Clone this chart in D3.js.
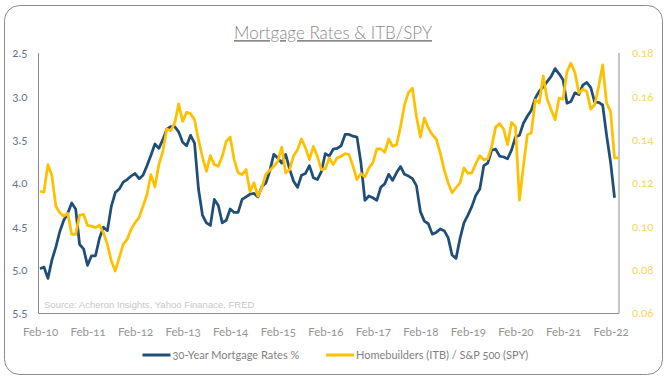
<!DOCTYPE html>
<html>
<head>
<meta charset="utf-8">
<script src="https://cdn.jsdelivr.net/npm/d3@7"></script>
<style>
  html, body { margin: 0; padding: 0; background: #ffffff; }
  svg { display: block; }
  .lbl { font-family: "Lato", "Open Sans", sans-serif; font-feature-settings: "onum" 1; font-variant-numeric: oldstyle-nums; }
</style>
</head>
<body>
<svg id="chart" width="668" height="380"></svg>
<script>
// ---------- data ----------
const title = "Mortgage Rates & ITB/SPY";
const sourceNote = "Source: Acheron Insights, Yahoo Finanace, FRED";
const seriesNames = ["30-Year Mortgage Rates %", "Homebuilders (ITB) / S&P 500 (SPY)"];
const xTickLabels = ["Feb-10","Feb-11","Feb-12","Feb-13","Feb-14","Feb-15","Feb-16","Feb-17","Feb-18","Feb-19","Feb-20","Feb-21","Feb-22"];
const leftTicks = [2.5, 3.0, 3.5, 4.0, 4.5, 5.0, 5.5];
const rightTicks = [0.06, 0.08, 0.10, 0.12, 0.14, 0.16, 0.18];

// monthly, starting Feb-10 (index 0)
const mortgageRates = [
  4.99, 4.97, 5.10, 4.89, 4.74, 4.56, 4.43, 4.35, 4.23, 4.30, 4.71,
  4.76, 4.95, 4.84, 4.84, 4.64, 4.51, 4.55, 4.27, 4.11, 4.07, 3.99, 3.96,
  3.92, 3.89, 3.95, 3.91, 3.80, 3.68, 3.55, 3.60, 3.50, 3.38, 3.35, 3.35,
  3.41, 3.53, 3.57, 3.45, 3.54, 4.07, 4.37, 4.46, 4.49, 4.19, 4.26, 4.46,
  4.43, 4.30, 4.34, 4.34, 4.19, 4.16, 4.13, 4.12, 4.16, 4.04, 4.00, 3.86,
  3.67, 3.71, 3.77, 3.67, 3.84, 3.98, 4.05, 3.91, 3.89, 3.80, 3.94, 3.96,
  3.87, 3.66, 3.69, 3.61, 3.60, 3.57, 3.44, 3.44, 3.46, 3.47, 3.77, 4.20,
  4.15, 4.17, 4.20, 4.05, 4.01, 3.90, 3.97, 3.88, 3.81, 3.90, 3.92, 3.95,
  4.03, 4.33, 4.44, 4.47, 4.59, 4.57, 4.53, 4.55, 4.63, 4.83, 4.87, 4.64,
  4.46, 4.37, 4.27, 4.14, 4.07, 3.80, 3.77, 3.62, 3.61, 3.69, 3.70, 3.72,
  3.62, 3.47, 3.45, 3.31, 3.23, 3.16, 3.02, 2.94, 2.89, 2.83, 2.77, 2.68,
  2.74, 2.81, 3.08, 3.06, 2.96, 2.98, 2.87, 2.84, 2.90, 3.07, 3.07, 3.10,
  3.45, 3.76, 4.17
];

const itbSpy = [
  0.1162, 0.1158, 0.1285, 0.1234, 0.1093, 0.1063, 0.1047, 0.1060, 0.0963, 0.0963,
  0.1052, 0.1055, 0.1004, 0.1001, 0.0994, 0.1006, 0.0971, 0.0917, 0.0840, 0.0794,
  0.0856, 0.0917, 0.0940, 0.0986, 0.1017, 0.1040, 0.1093, 0.1147, 0.1239, 0.1182,
  0.1285, 0.1346, 0.1449, 0.1441, 0.1477, 0.1565, 0.1484, 0.1526, 0.1520, 0.1492,
  0.1400, 0.1320, 0.1254, 0.1326, 0.1285, 0.1277, 0.1323, 0.1392, 0.1412, 0.1308,
  0.1247, 0.1239, 0.1262, 0.1160, 0.1201, 0.1139, 0.1180, 0.1240, 0.1259, 0.1277,
  0.1300, 0.1366, 0.1247, 0.1262, 0.1326, 0.1354, 0.1403, 0.1362, 0.1308, 0.1369,
  0.1323, 0.1262, 0.1266, 0.1316, 0.1285, 0.1316, 0.1323, 0.1336, 0.1331, 0.1277,
  0.1216, 0.1244, 0.1228, 0.1270, 0.1293, 0.1357, 0.1357, 0.1342, 0.1403, 0.1369,
  0.1377, 0.1461, 0.1561, 0.1618, 0.1637, 0.1507, 0.1412, 0.1500, 0.1454, 0.1423,
  0.1403, 0.1339, 0.1262, 0.1200, 0.1155, 0.1178, 0.1201, 0.1270, 0.1244, 0.1247,
  0.1290, 0.1326, 0.1308, 0.1311, 0.1369, 0.1458, 0.1474, 0.1449, 0.1377, 0.1480,
  0.1461, 0.1121, 0.1277, 0.1423, 0.1431, 0.1584, 0.1569, 0.1694, 0.1587, 0.1538,
  0.1492, 0.1592, 0.1587, 0.1714, 0.1753, 0.1710, 0.1615, 0.1633, 0.1622, 0.1541,
  0.1561, 0.1645, 0.1745, 0.1569, 0.1530, 0.1316, 0.1316
];

// ---------- styles ----------
const colBlue = "#1f4e79";
const colGold = "#ffc000";

const svg = d3.select("#chart");
const pL = 40, pR = 618.5, pT = 53, pB = 313;

// outer rounded border
svg.append("rect")
  .attr("x", 4.5).attr("y", 5.5).attr("width", 658).attr("height", 369)
  .attr("rx", 15).attr("ry", 15)
  .attr("fill", "#fff").attr("stroke", "#8c8c8c").attr("stroke-width", 1);

// title
svg.append("text")
  .attr("class", "lbl")
  .attr("x", 333).attr("y", 39)
  .attr("text-anchor", "middle")
  .attr("font-size", 17).attr("font-weight", 300)
  .attr("fill", "#8a8a8a")
  .attr("text-decoration", "underline")
  .text(title);

const x = d3.scaleLinear().domain([0, 146]).range([pL, pR]);
const yL = d3.scaleLinear().domain([2.5, 5.5]).range([pT, pB]);
const yR = d3.scaleLinear().domain([0.06, 0.18]).range([pB, pT]);

// axes
const axL = d3.axisLeft(yL).tickValues(leftTicks).tickFormat(d3.format(".1f")).tickSize(0).tickPadding(11);
const axR = d3.axisRight(yR).tickValues(rightTicks).tickFormat(d3.format(".2f")).tickSize(0).tickPadding(13);
const axB = d3.axisBottom(x).tickValues(xTickLabels.map((d, i) => i * 12))
  .tickFormat((d, i) => xTickLabels[i]).tickSize(0).tickPadding(14);

function styleAxis(g, color, size) {
  g.selectAll("text").attr("class", "lbl").attr("font-size", size).attr("fill", color);
}

svg.append("g").attr("transform", `translate(${pL - 1.5},0)`).call(axL).call(g => styleAxis(g, "#5f7393", 11.5));
svg.append("g").attr("transform", `translate(${pR + 0.5},0)`).call(axR).call(g => styleAxis(g, "#fcd35e", 11.5));
svg.append("g").attr("transform", `translate(0,${pB + 0.5})`).call(axB).call(g => styleAxis(g, "#949494", 11.5));

svg.selectAll(".domain").remove();
svg.append("line").attr("x1", pL - 1.5).attr("x2", pL - 1.5).attr("y1", pT).attr("y2", pB)
  .attr("stroke", "#8c8c8c");
svg.append("line").attr("x1", pR + 0.5).attr("x2", pR + 0.5).attr("y1", pT).attr("y2", pB)
  .attr("stroke", "#8c8c8c");
svg.append("line").attr("x1", pL - 1.5).attr("x2", pR + 0.5).attr("y1", pB + 0.5).attr("y2", pB + 0.5)
  .attr("stroke", "#8c8c8c");

// source note
svg.append("text")
  .attr("x", 44).attr("y", 308)
  .attr("font-family", "Liberation Sans, Arial, sans-serif")
  .attr("font-size", 9.5).attr("fill", "#c8c8c8")
  .text(sourceNote);

// lines
const lineL = d3.line().x((d, i) => x(i)).y(d => yL(d));
const lineR = d3.line().x((d, i) => x(i)).y(d => yR(d));

svg.append("path").datum(mortgageRates)
  .attr("d", lineL).attr("fill", "none").attr("stroke", colBlue)
  .attr("stroke-width", 2.75).attr("stroke-linejoin", "round");
svg.append("path").datum(itbSpy)
  .attr("d", lineR).attr("fill", "none").attr("stroke", colGold)
  .attr("stroke-width", 2.75).attr("stroke-linejoin", "round");

// legend
const legend = [
  { name: seriesNames[0], color: colBlue, x0: 142.5 },
  { name: seriesNames[1], color: colGold, x0: 326 }
];
const lg = svg.append("g");
legend.forEach(l => {
  lg.append("line").attr("x1", l.x0).attr("x2", l.x0 + 28).attr("y1", 355).attr("y2", 355)
    .attr("stroke", l.color).attr("stroke-width", 3);
  lg.append("text").attr("class", "lbl").attr("x", l.x0 + 30).attr("y", 359)
    .attr("font-size", 11).attr("fill", "#7f7f7f").text(l.name);
});
</script>
</body>
</html>
